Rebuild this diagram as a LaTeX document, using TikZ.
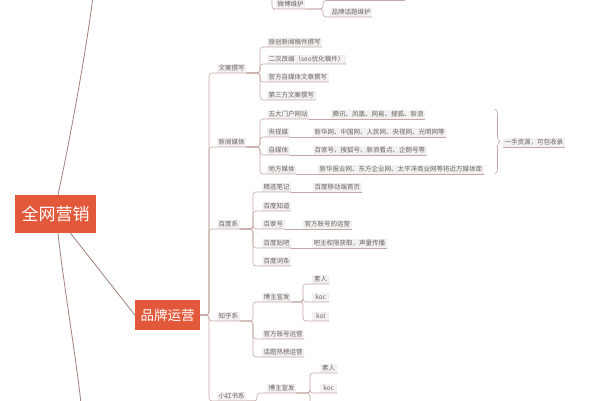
\documentclass[tikz,border=0pt]{standalone}
\usepackage{fontspec}
\setmainfont{Noto Sans CJK SC}
\usetikzlibrary{decorations.pathreplacing}
\definecolor{rootred}{RGB}{226,88,58}
\definecolor{linkc}{RGB}{196,168,163}
\definecolor{trunkc}{RGB}{160,128,122}
\definecolor{boxgray}{RGB}{242,240,240}
\definecolor{txtgray}{RGB}{110,100,100}

\begin{document}
\begin{tikzpicture}[
  x=1pt, y=-1pt,
  root/.style={rectangle, fill=rootred, text=white, minimum width=81pt, minimum height=38pt, font=\fontsize{17}{17}\selectfont},
  main/.style={rectangle, fill=rootred, text=white, minimum width=65pt, minimum height=30pt, font=\fontsize{13.5}{13.5}\selectfont},
  topic/.style={rectangle, fill=boxgray, text=txtgray, anchor=south west, inner xsep=1.5pt, inner ysep=0pt, minimum height=9pt, font=\fontsize{6.5}{6.5}\selectfont},
  link/.style={draw=linkc, line width=0.6pt, rounded corners=3pt},
  trunk/.style={draw=trunkc, line width=0.8pt}
]
  \useasboundingbox (0,0) rectangle (600,400);
  \fill[white] (0,0) rectangle (600,400);
  \clip (0,0) rectangle (600,400);

  % Centre et branche principale
  \node[root] (root) at (55.5,214) {全网营销};
  \node[main] (pinpai) at (167.5,315) {品牌运营};

  % Branche du haut (coupee)
  \node[topic] (weibo) at (276,9) {微博维护};
  \node[topic] (huati) at (330,17) {品牌话题维护};
  \coordinate (weibospine) at (272,-6);
  \coordinate (weibosub) at (323,0.5);
  \coordinate (weiboup) at (405,0.5);

  % Premier niveau
  \node[topic] (wenan) at (217,73) {文案撰写};
  \node[topic] (xinwen) at (217,147) {新闻媒体};
  \node[topic] (baidu) at (217,229) {百度系};
  \node[topic] (zhihu) at (217,321) {知乎系};
  \node[topic] (xhs) at (217,401) {小红书系};

  % Wenan
  \node[topic] (yc) at (267,47) {原创新闻稿件撰写};
  \node[topic] (ec) at (267,64) {二次改编（seo优化稿件）};
  \node[topic] (gf) at (267,82) {官方自媒体文章撰写};
  \node[topic] (dsf) at (267,100) {第三方文案撰写};

  % Xinwen
  \node[topic] (menhu) at (267,119) {五大门户网站};
  \node[topic] (yangshi) at (267,137) {央视媒};
  \node[topic] (zimeiti) at (267,155) {自媒体};
  \node[topic] (difang) at (267,174) {地方媒体};
  \node[topic] (tengxun) at (331,119) {腾讯、凤凰、网易、搜狐、新浪};
  \node[topic] (xinhua) at (313,137) {新华网、中国网、人民网、央视网、光明网等};
  \node[topic] (baijia) at (313,155) {百家号、搜狐号、新浪看点、企鹅号等};
  \node[topic] (xinhuabao) at (318,174) {新华报业网、东方企业网、太平洋商业网等将近万媒体库};
  \node[topic] (yishou) at (503,147) {一手资源，可包收录};
  \coordinate (bracetop) at (495,109);
  \coordinate (bracebot) at (495,174);

  % Baidu
  \node[topic] (jingxuan) at (262,192) {精选笔记};
  \node[topic] (zhidao) at (262,211) {百度知道};
  \node[topic] (baijiahao) at (262,229) {百家号};
  \node[topic] (tieba) at (262,248) {百度贴吧};
  \node[topic] (citiao) at (262,266) {百度词条};
  \node[topic] (yidong) at (313,192) {百度移动端首页};
  \node[topic] (zhanghao) at (303,229) {官方账号的运营};
  \node[topic] (bazhu) at (312,248) {吧主权限获取，声量传播};

  % Zhihu
  \node[topic] (zhbozhu) at (262,302) {博主宣发};
  \node[topic] (zhyunying) at (262,339) {官方账号运营};
  \node[topic] (zhrebang) at (262,357) {话题热榜运营};
  \node[topic, minimum width=17pt] (zhsuren) at (312,284) {素人};
  \node[topic, minimum width=17pt] (zhkoc) at (312,302) {koc};
  \node[topic, minimum width=17pt] (zhkol) at (312,321) {kol};

  % Xiaohongshu
  \node[topic] (xhsbozhu) at (267,393) {博主宣发};
  \node[topic, minimum width=17pt] (xhssuren) at (320,373) {素人};
  \node[topic, minimum width=17pt] (xhskoc) at (320,393) {koc};
  \coordinate (xhsmore) at (257,410);
  \coordinate (xhsbzmore) at (310,410);

  % Liens du centre
  \coordinate (offtop) at (93,-4);
  \coordinate (offbot) at (81,404);
  \draw[trunk] ([xshift=2.5pt]root.north) .. controls +(12,-55) and +(-6,50) .. (offtop);
  \draw[trunk] ([xshift=2.5pt]root.south) .. controls +(4,40) and +(-4,-40) .. (offbot);
  \draw[trunk] ([xshift=15pt]root.south) -- (pinpai.west);

  % Liens des branches
  \draw[link] (weibospine) |- (weibo.south west) -- (weibo.south east);
  \draw[link] (weibo.south east) -| ([xshift=-7pt]huati.south west) -- (huati.south east);
  \draw[link] (weibo.south east) -| (weibosub) -- (weiboup);

  \foreach \c in {wenan,xinwen,baidu,zhihu,xhs}
    \draw[link] (pinpai.east) -| ([xshift=-8pt]\c.south west) -- (\c.south east);
  \foreach \c in {yc,ec,gf,dsf}
    \draw[link] (wenan.south east) -| ([xshift=-7pt]\c.south west) -- (\c.south east);
  \foreach \c in {menhu,yangshi,zimeiti,difang}
    \draw[link] (xinwen.south east) -| ([xshift=-7pt]\c.south west) -- (\c.south east);
  \foreach \c in {jingxuan,zhidao,baijiahao,tieba,citiao}
    \draw[link] (baidu.south east) -| ([xshift=-9pt]\c.south west) -- (\c.south east);
  \foreach \c in {zhbozhu,zhyunying,zhrebang}
    \draw[link] (zhihu.south east) -| ([xshift=-9pt]\c.south west) -- (\c.south east);
  \foreach \c in {zhsuren,zhkoc,zhkol}
    \draw[link] (zhbozhu.south east) -| ([xshift=-9pt]\c.south west) -- (\c.south east);
  \draw[link] (xhs.south east) -| ([xshift=-10pt]xhsbozhu.south west) -- (xhsbozhu.south east);
  \draw[link] (xhs.south east) -| (xhsmore);
  \foreach \c in {xhssuren,xhskoc}
    \draw[link] (xhsbozhu.south east) -| ([xshift=-10pt]\c.south west) -- (\c.south east);
  \draw[link] (xhsbozhu.south east) -| (xhsbzmore);

  \foreach \a/\b in {menhu/tengxun, yangshi/xinhua, zimeiti/baijia, difang/xinhuabao, jingxuan/yidong, baijiahao/zhanghao, tieba/bazhu}
    \draw[link] (\a.south east) -- (\b.south east);

  % Accolade
  \draw[link, rounded corners=0pt, decorate, decoration={brace, amplitude=5pt}] (bracetop) -- (bracebot);
  \draw[link] (yishou.south west) -- (yishou.south east);

\end{tikzpicture}
\end{document}
